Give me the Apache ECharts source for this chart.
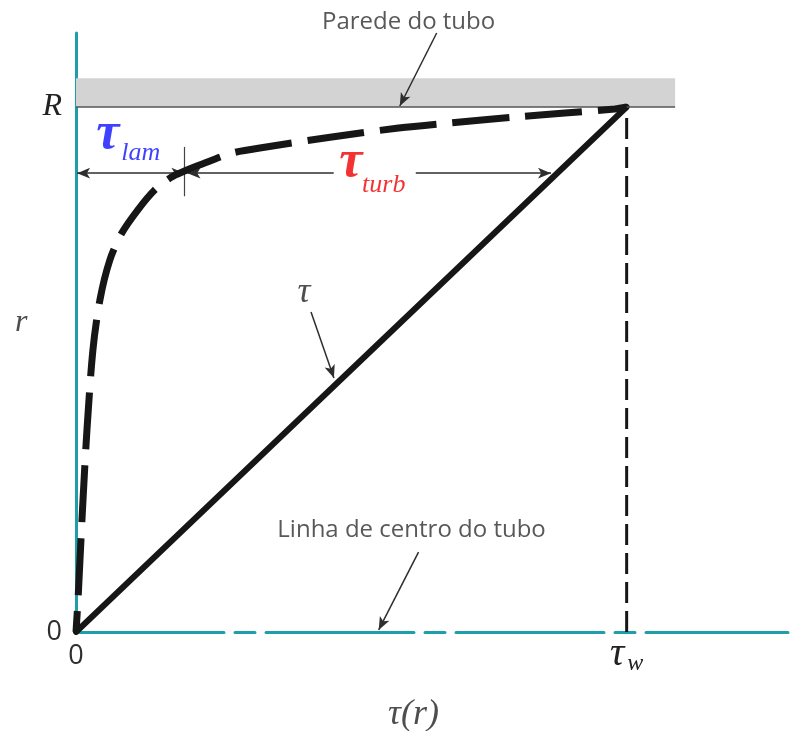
<!DOCTYPE html>
<html>
<head>
<meta charset="utf-8">
<script src="https://cdn.jsdelivr.net/npm/echarts@6/dist/echarts.min.js"></script>
<style>
  html, body { margin: 0; padding: 0; background: #ffffff; }
  #chart { width: 791px; height: 731px; }
</style>
</head>
<body>
<div id="chart"></div>
<script>
// Shear stress τ in units of the wall value τ_w, radius r in units of the pipe radius R.
const tauTicks = [0, 1];          // 0, τ_w
const rTicks = [0, 1];            // 0, R
const tauRange = [0, 1.293];
const rRange = [0, 1.141];

// Total shear stress: linear from the centreline (0) to the wall (τ_w at R).
const totalTau = [0, 1];
const totalR = [0, 1];

// Turbulent shear profile: steep laminar rise then the flat turbulent core.
const profileTau = [0, 0.0036, 0.0072, 0.0127, 0.0199, 0.0307, 0.0434, 0.0615, 0.0832, 0.1121, 0.1429, 0.1736, 0.1971, 0.2242, 0.2839, 0.3454, 0.4647, 0.5859, 0.6763, 0.7975, 0.8879, 0.9783, 1];
const profileR   = [0, 0.061, 0.1371, 0.2514, 0.3848, 0.5371, 0.6324, 0.7086, 0.76, 0.8038, 0.8419, 0.8667, 0.8781, 0.8895, 0.9124, 0.9238, 0.9429, 0.96, 0.9695, 0.981, 0.9886, 0.9962, 1];

// Wall stress marker line at τ = τ_w.
const wallStressTau = [1, 1];
const wallStressR = [0, 1];

// Pipe wall band.
const wallTau = [0, 1.088];
const wallR = [1, 1.055];

const teal = '#1c9fa8';
const ink = '#161616';
const note = '#2e2e2e';
const serif = '"Liberation Serif", "DejaVu Serif", serif';
const sans = '"Open Sans", "DejaVu Sans", sans-serif';

// Annotation arrows: [from, to, arrow at start, arrow at end]
const arrows = [
  [[0.655, 1.141], [0.588, 1.002], false, true],   // Parede do tubo
  [[0.002, 0.874], [0.197, 0.874], true, true],    // τ_lam span
  [[0.468, 0.874], [0.2025, 0.874], false, true],  // τ_turb span, left part
  [[0.617, 0.874], [0.8626, 0.874], false, true],  // τ_turb span, right part
  [[0.4268, 0.6095], [0.4684, 0.4838], false, true], // τ
  [[0.622, 0.152], [0.5497, 0.004], false, true]   // Linha de centro do tubo
];
// Plain guide segments
const segments = [
  [[wallTau[0], wallR[0]], [wallTau[1], wallR[0]], '#555555', 1.5], // wall edge
  [[0.197, 0.924], [0.197, 0.83], '#444444', 1.2]                   // τ_lam / τ_turb divider
];

// Text notes: [tau, r, text, style]
const italicSerif = (size, color, weight) => ({ fontFamily: serif, fontStyle: 'italic', fontWeight: weight || 'normal', fontSize: size, color: color });
const plainSans = (size) => ({ fontFamily: sans, fontSize: size, color: note });
const notes = [
  [0.604, 1.162, 'Parede do tubo', plainSans(24)],
  [0.6094, 0.1943, 'Linha de centro do tubo', plainSans(24)],
  [0.0579, 0.9467, 'τ', italicSerif(52, '#1010ff', 'bold')],
  [0.1175, 0.9124, 'lam', italicSerif(26, '#1010ff')],
  [0.4991, 0.8933, 'τ', italicSerif(52, '#f00000', 'bold')],
  [0.5588, 0.8514, 'turb', italicSerif(26, '#f00000')],
  [0.4141, 0.6457, 'τ', italicSerif(36, '#222222')],
  [-0.0995, 0.5886, 'r', italicSerif(32, '#222222')],
  [0.613, -0.1581, 'τ(r)', italicSerif(36, '#222222')]
];

const zip = (a, b) => a.map((v, i) => [v, b[i]]);

const chart = echarts.init(document.getElementById('chart'), null, { renderer: 'canvas' });

chart.setOption({
  animation: false,
  backgroundColor: '#ffffff',
  grid: { left: 76, right: 0, top: 33, bottom: 99, containLabel: false },
  xAxis: {
    type: 'value',
    min: tauRange[0], max: tauRange[1], interval: tauTicks[1] - tauTicks[0],
    splitLine: { show: false },
    axisTick: { show: false },
    axisLine: { show: true, onZero: false, lineStyle: { color: teal, width: 3, type: [148, 11, 20, 11] } },
    axisLabel: {
      margin: 2,
      formatter: v => v === tauTicks[0] ? '{n|0}' : (v === tauTicks[1] ? '{t|τ}{w|w}' : ''),
      rich: {
        n: { fontFamily: sans, fontSize: 27, color: note, lineHeight: 44 },
        t: { fontFamily: serif, fontStyle: 'italic', fontSize: 40, color: '#222', lineHeight: 42, verticalAlign: 'top' },
        w: { fontFamily: serif, fontStyle: 'italic', fontSize: 24, color: '#222', lineHeight: 16, verticalAlign: 'bottom', padding: [0, 0, 0, 3] }
      }
    }
  },
  yAxis: {
    type: 'value',
    min: rRange[0], max: rRange[1], interval: rTicks[1] - rTicks[0],
    splitLine: { show: false },
    axisTick: { show: false },
    axisLine: { show: true, onZero: false, lineStyle: { color: teal, width: 3 } },
    axisLabel: {
      margin: 14,
      formatter: v => v === rTicks[0] ? '{n|0}' : (v === rTicks[1] ? '{v|R}' : ''),
      rich: {
        n: { fontFamily: sans, fontSize: 27, color: note },
        v: { fontFamily: serif, fontStyle: 'italic', fontSize: 32, color: '#222' }
      }
    }
  },
  series: [
    {
      name: 'τ',
      type: 'line',
      data: zip(totalTau, totalR),
      showSymbol: false,
      z: 4,
      lineStyle: { color: ink, width: 6, cap: 'round' },
      markArea: {
        silent: true,
        itemStyle: { color: '#d3d3d3' },
        data: [[{ coord: [wallTau[0], wallR[0]] }, { coord: [wallTau[1], wallR[1]] }]]
      }
    },
    {
      name: 'perfil',
      type: 'line',
      data: zip(profileTau, profileR),
      smooth: 0.3,
      showSymbol: false,
      z: 5,
      lineStyle: { color: ink, width: 7, type: [57, 16], dashOffset: 36, cap: 'butt' }
    },
    {
      name: 'τw',
      type: 'line',
      data: zip(wallStressTau, wallStressR),
      showSymbol: false,
      z: 3,
      lineStyle: { color: ink, width: 3, type: [21, 8] },
      markLine: {
        silent: true,
        symbolSize: [8, 13],
        label: { show: false },
        emphasis: { disabled: true },
        data: arrows.map(a => [
          { coord: a[0], symbol: a[2] ? 'arrow' : 'none', lineStyle: { color: note, width: 1.5, type: 'solid' } },
          { coord: a[1], symbol: a[3] ? 'arrow' : 'none' }
        ]).concat(segments.map(s => [
          { coord: s[0], symbol: 'none', lineStyle: { color: s[2], width: s[3], type: 'solid' } },
          { coord: s[1], symbol: 'none' }
        ]))
      }
    },
    {
      name: 'notas',
      type: 'scatter',
      clip: false,
      silent: true,
      z: 6,
      symbolSize: 1,
      itemStyle: { color: 'rgba(0,0,0,0)' },
      data: notes.map(n => ({
        value: [n[0], n[1]],
        label: Object.assign({ show: true, position: 'inside', formatter: n[2] }, n[3])
      }))
    }
  ]
});
</script>
</body>
</html>
